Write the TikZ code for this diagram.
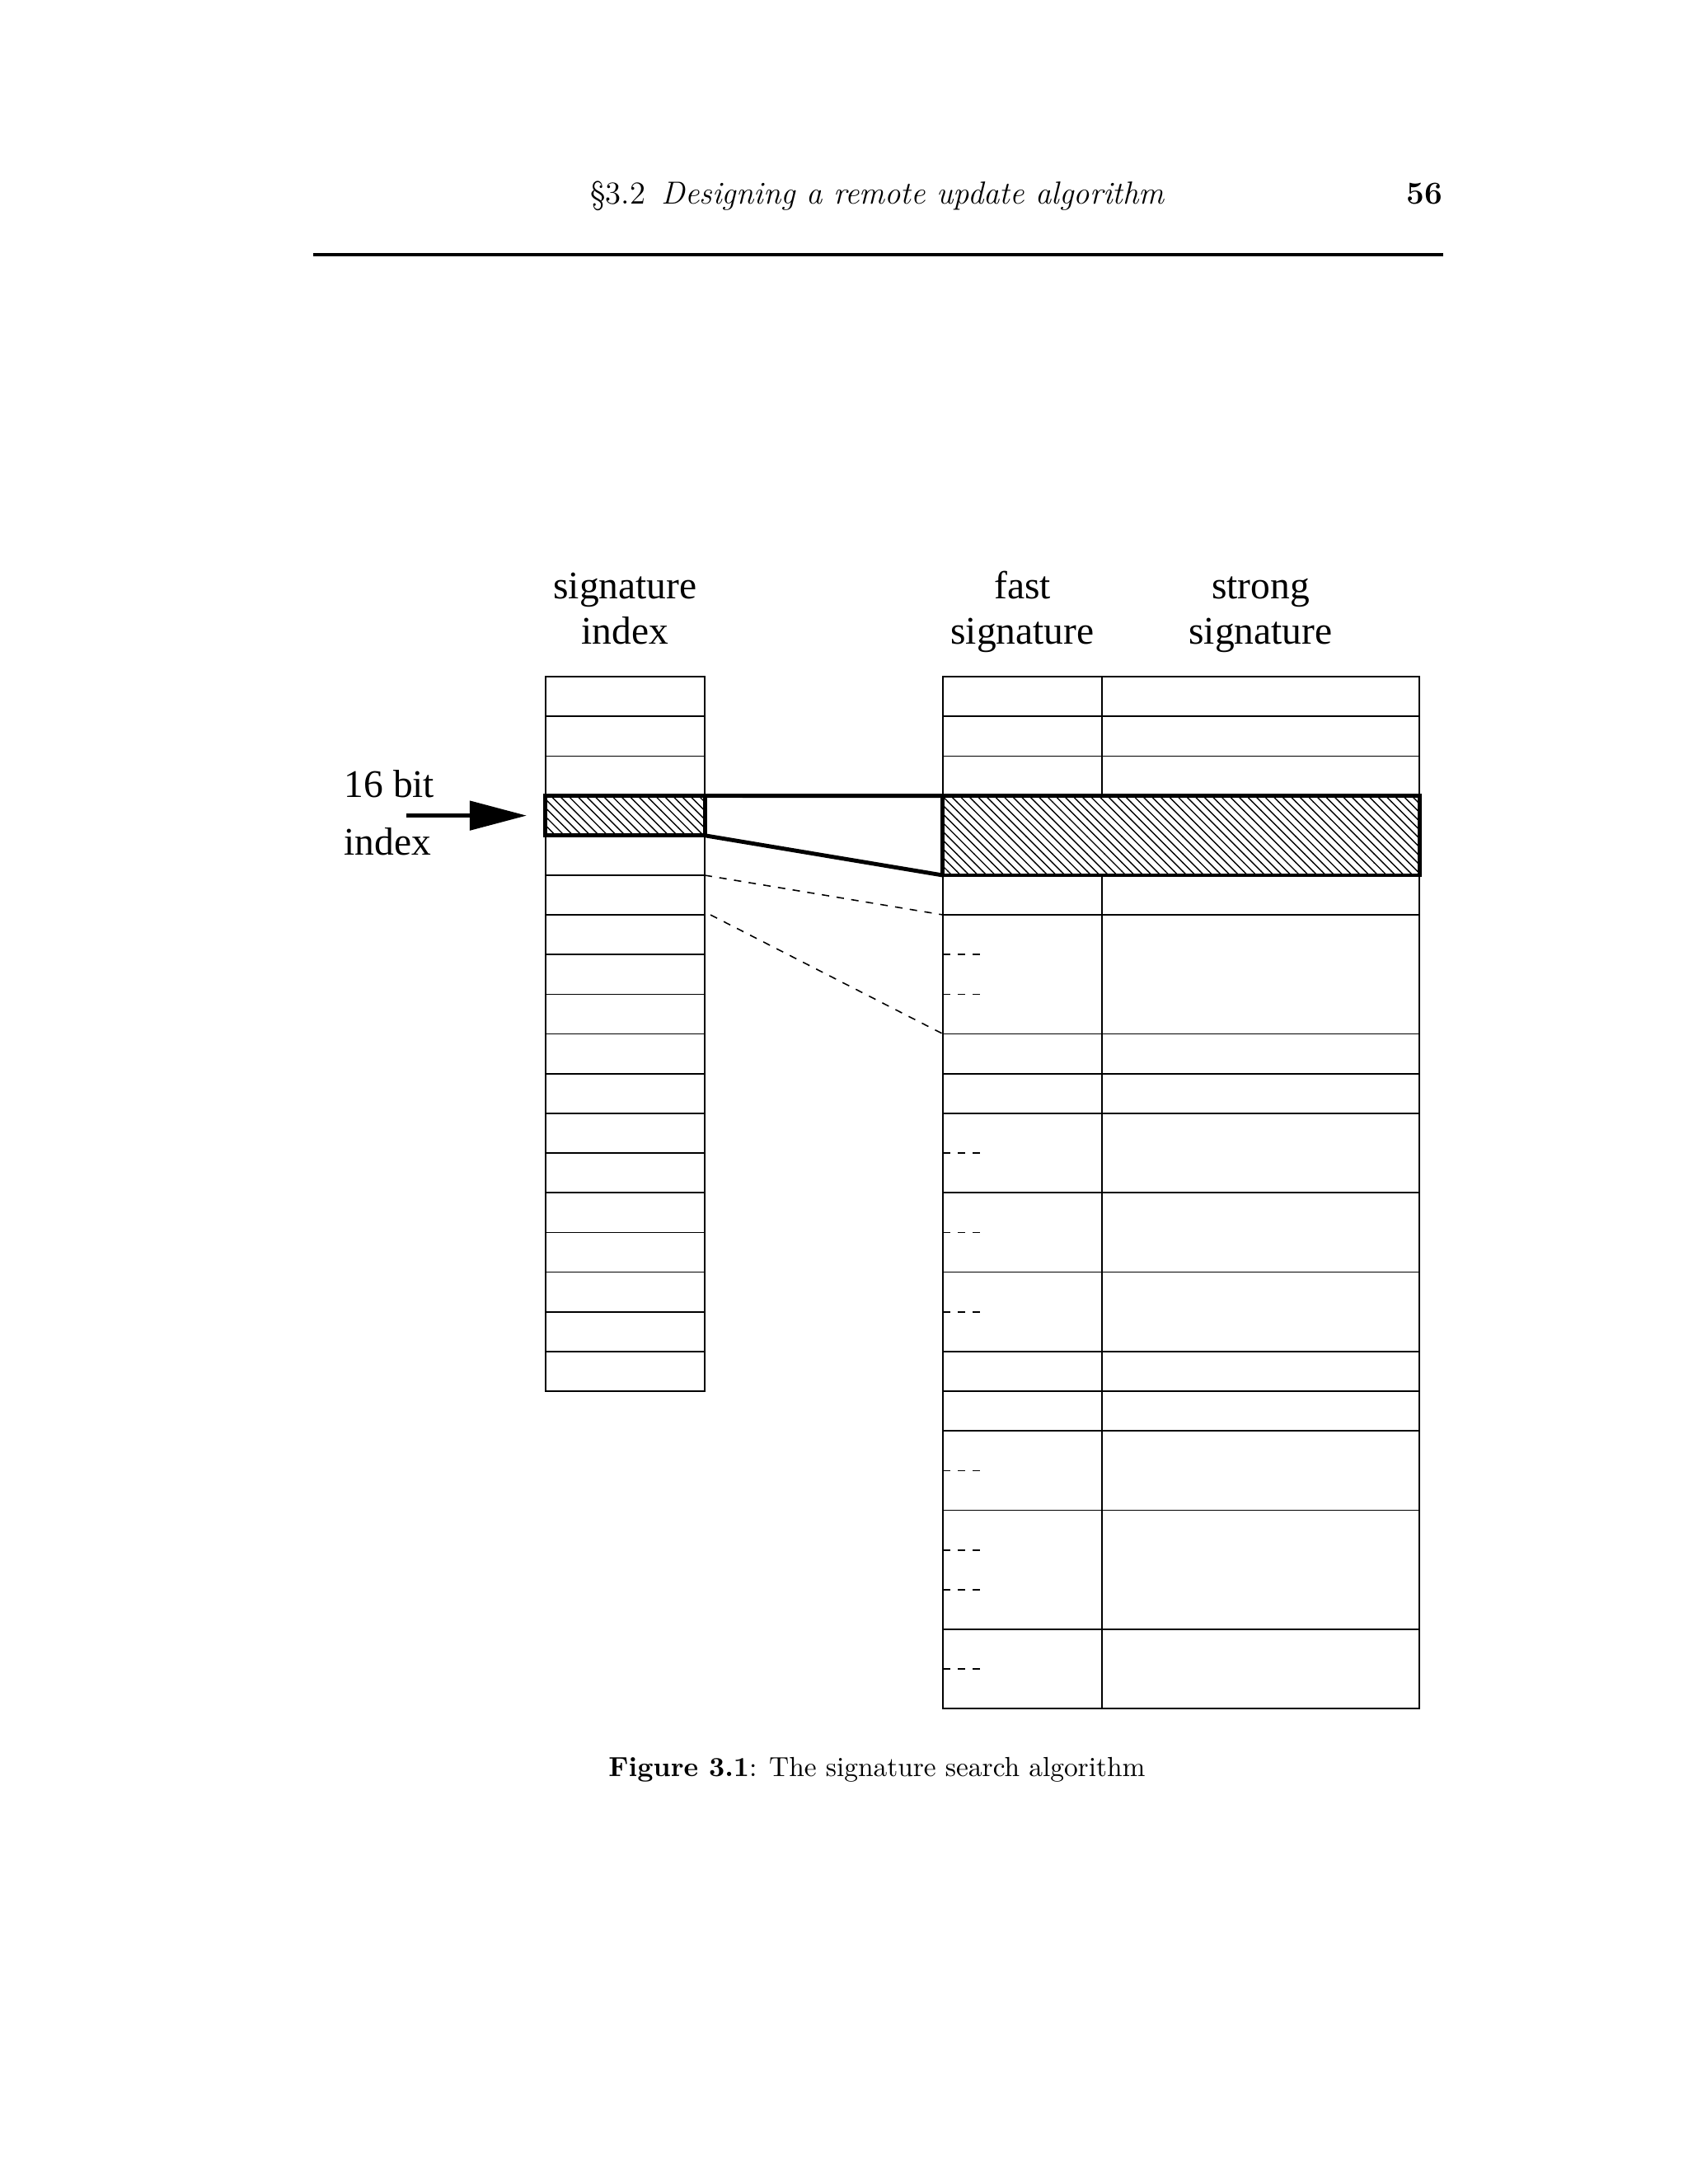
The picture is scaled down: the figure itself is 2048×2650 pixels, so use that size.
\documentclass[tikz,border=0pt]{standalone}
\usepackage{fontspec}
\newfontfamily\figfont{Liberation Serif}
\usetikzlibrary{arrows.meta,patterns,positioning}

\tikzset{
  cell/.style={draw,line width=0.45pt},
  hot/.style={draw,line width=1.4pt,pattern=north west lines,preaction={fill=white},inner sep=0pt,outer sep=0pt},
  link/.style={line width=1.4pt},
  dashlink/.style={line width=0.45pt,dash pattern=on 0.09cm off 0.09cm},
  figlabel/.style={font=\figfont\fontsize{13.5}{15.4}\selectfont,align=center,inner sep=0pt}
}

\begin{document}
\begin{tikzpicture}[x=0.01cm,y=-0.01cm]
            \useasboundingbox (0,0) rectangle (2048,2650);

            % running head
            \node[anchor=base,font=\fontsize{11}{13}\selectfont] (head) at (1065,247) {\S3.2\enskip\textit{Designing a remote update algorithm}};
            \node[anchor=base east,font=\fontsize{11}{13}\selectfont\bfseries,inner sep=0pt] (page) at (1751,247) {56};
            \draw[line width=1pt] (380,309) -- (1751,309);

            % column titles
            \node[figlabel,anchor=base] (idxtitle) at (758.5,781) {signature\\index};
            \node[figlabel,anchor=base] (fasttitle) at (1240.5,781) {fast\\signature};
            \node[figlabel,anchor=base] (strongtitle) at (1529.5,781) {strong\\signature};

            % signature index column
            \draw[cell] (662,821) rectangle (855,1688);
            \foreach \k in {1,...,17}
                \draw[cell] (662,{821+\k*48.17}) -- (855,{821+\k*48.17});

            % signature table
            \draw[cell] (1144,821) rectangle (1722,2073);
            \draw[cell] (1337,821) -- (1337,2073);
            \foreach \k in {1,2,6,9,10,11,13,15,17,18,19,21,24}
                \draw[cell] (1144,{821+\k*48.17}) -- (1722,{821+\k*48.17});
            \foreach \k in {7,8,12,14,16,20,22,23,25}
                \draw[dashlink] (1144,{821+\k*48.17}) -- (1192,{821+\k*48.17});

            % selected entries
            \node[hot,minimum width=1.93cm,minimum height=0.4817cm] (idx) at (758.5,989.6) {};
            \node[hot,minimum width=5.78cm,minimum height=0.9634cm] (sig) at (1433,1013.8) {};

            \draw[link] (idx.north east) -- (sig.north west);
            \draw[link] (idx.south east) -- (sig.south west);

            \coordinate (nextidx) at (855,1062);
            \coordinate (nextidxb) at (862,1110);
            \coordinate (nextsig) at (1144,1110);
            \coordinate (nextsigb) at (1144,1254.5);
            \draw[dashlink] (nextidx) -- (nextsig);
            \draw[dashlink] (nextidxb) -- (nextsigb);

            % 16 bit index
            \node[figlabel,anchor=base west] (bits) at (417,967) {16 bit};
            \node[figlabel,anchor=base west] (bitsidx) at (417,1037) {index};
            \coordinate (arrowstart) at (493,989.6);
            \draw[line width=1.4pt,-{Triangle[length=0.69cm,width=0.35cm]},shorten >=0.23cm] (arrowstart) -- (idx.west);

            % caption
            \node[anchor=base,font=\fontsize{9.5}{11.5}\selectfont] (caption) at (1064,2155) {\textbf{Figure 3.1}: The signature search algorithm};

        \end{tikzpicture}
\end{document}
